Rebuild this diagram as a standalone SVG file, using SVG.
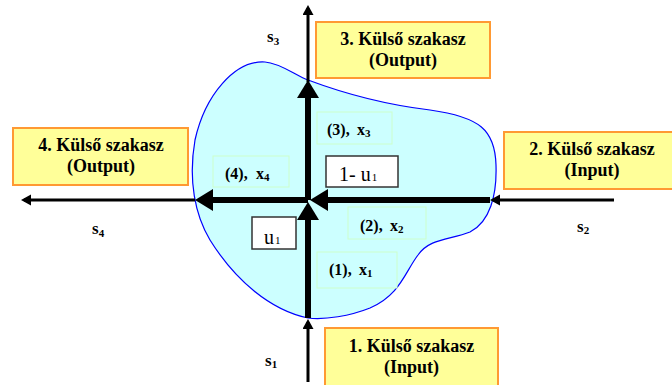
<svg xmlns="http://www.w3.org/2000/svg" width="672" height="385" viewBox="0 0 672 385">
<defs>
<style>
.obox{fill:#ffff99;stroke:#ff9933;stroke-width:2}
.lbox{fill:#ccffff;stroke:#ccffcc;stroke-width:1}
.wbox{fill:#ffffff;stroke:#333333;stroke-width:1.5}
.title{font-family:"Liberation Serif","Times New Roman",serif;font-weight:bold;font-size:18px;fill:#000;text-anchor:middle}
.lab{font-family:"Liberation Serif","Times New Roman",serif;font-weight:bold;font-size:16px;fill:#000}
.sl{font-family:"Liberation Serif","Times New Roman",serif;font-weight:bold;font-size:17px;fill:#000}
.u{font-family:"Liberation Serif","Times New Roman",serif;font-size:20px;fill:#000}
.sub{font-size:11px}
.thin{stroke:#000;stroke-width:3;fill:none}
.thick{stroke:#000;stroke-width:6;fill:none}
</style>
<marker id="hthin" markerUnits="userSpaceOnUse" markerWidth="12" markerHeight="12" refX="7" refY="5.5" orient="auto">
<path d="M0,0 L10,5.5 L0,11 Z" fill="#000"/>
</marker>
<marker id="hthick" markerUnits="userSpaceOnUse" markerWidth="20" markerHeight="24" refX="13" refY="11" orient="auto">
<path d="M0,0 L18,11 L0,22 Z" fill="#000"/>
</marker>
</defs>

<g id="region">
<path d="M308,80 C340,92 380,104 430,110 C480,117 495,130 496,165 C497,195 490,222 470,232 C450,240 430,238 418,255 C405,272 400,295 370,308 C350,316 325,320 308,318 C270,310 235,280 210,240 C195,215 188,180 195,140 C205,95 235,60 265,62 C280,63 295,75 308,80 Z" fill="#ccffff" stroke="#0000ff" stroke-width="1.2"/>
</g>

<g id="ext3">
<rect class="obox" x="316" y="22" width="174" height="56"/>
<text class="title" x="403" y="45">3. Külső szakasz</text>
<text class="title" x="403" y="66">(Output)</text>
</g>
<g id="ext4">
<rect class="obox" x="13" y="128" width="175" height="57"/>
<text class="title" x="101" y="151">4. Külső szakasz</text>
<text class="title" x="101" y="172">(Output)</text>
</g>
<g id="ext2">
<rect class="obox" x="504" y="132" width="176" height="57"/>
<text class="title" x="592" y="155">2. Külső szakasz</text>
<text class="title" x="592" y="176">(Input)</text>
</g>
<g id="ext1">
<rect class="obox" x="325" y="328" width="173" height="60"/>
<text class="title" x="411.5" y="352">1. Külső szakasz</text>
<text class="title" x="411.5" y="373">(Input)</text>
</g>

<g id="sec3">
<rect class="lbox" x="317" y="112" width="75" height="32"/>
<text class="lab" x="327" y="135">(3),<tspan x="357">x</tspan><tspan class="sub" dy="2">3</tspan></text>
</g>
<g id="sec4">
<rect class="lbox" x="213" y="156" width="76" height="31"/>
<text class="lab" x="225" y="179">(4),<tspan x="256">x</tspan><tspan class="sub" dy="2">4</tspan></text>
</g>
<g id="sec2">
<rect class="lbox" x="348" y="207" width="78" height="32"/>
<text class="lab" x="360" y="231">(2),<tspan x="390">x</tspan><tspan class="sub" dy="2">2</tspan></text>
</g>
<g id="sec1">
<rect class="lbox" x="317" y="252" width="80" height="36"/>
<text class="lab" x="329" y="275">(1),<tspan x="359">x</tspan><tspan class="sub" dy="2">1</tspan></text>
</g>

<g id="split1">
<rect class="wbox" x="326" y="156" width="72" height="31"/>
<text class="u" x="339" y="181">1- u<tspan class="sub" dx="1">1</tspan></text>
</g>
<g id="split2">
<rect class="wbox" x="252" y="217" width="44" height="32"/>
<text class="u" x="264" y="244">u<tspan class="sub" dx="1">1</tspan></text>
</g>

<g id="slabels">
<text class="sl" x="267" y="42">s<tspan class="sub" dy="3">3</tspan></text>
<text class="sl" x="265" y="366">s<tspan class="sub" dy="2">1</tspan></text>
<text class="sl" x="92" y="234">s<tspan class="sub" dy="3">4</tspan></text>
<text class="sl" x="577" y="232">s<tspan class="sub" dy="2">2</tspan></text>
</g>

<g id="connectors">
<line class="thin" x1="308" y1="82" x2="308" y2="8" marker-end="url(#hthin)"/>
<line class="thin" x1="308" y1="382" x2="308" y2="322" marker-end="url(#hthin)"/>
<line class="thin" x1="195" y1="200" x2="24" y2="200" marker-end="url(#hthin)"/>
<line class="thin" x1="614" y1="200" x2="493" y2="200" marker-end="url(#hthin)"/>
<line class="thick" x1="308" y1="318" x2="308" y2="207" marker-end="url(#hthick)"/>
<line class="thick" x1="308" y1="200" x2="308" y2="85" marker-end="url(#hthick)"/>
<line class="thick" x1="490" y1="200" x2="315" y2="200" marker-end="url(#hthick)"/>
<line class="thick" x1="308" y1="200" x2="200" y2="200" marker-end="url(#hthick)"/>
</g>
</svg>
